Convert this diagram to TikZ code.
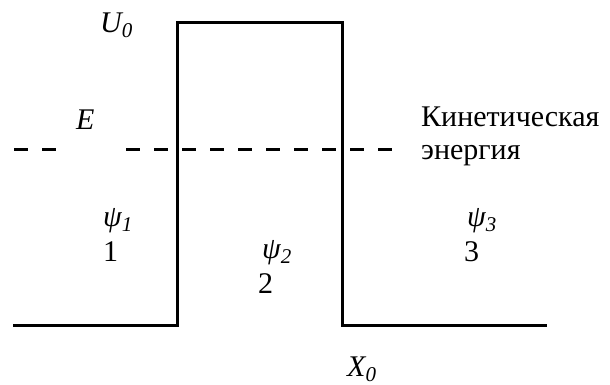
\documentclass[tikz,border=0pt]{standalone}
\usepackage{fontspec}
\setmainfont{Liberation Serif}
\tikzset{
  wall/.style={line width=3pt, line join=miter, line cap=rect},
  level/.style={line width=3pt, dash pattern=on 14pt off 14pt},
  lbl/.style={anchor=base west, inner sep=0pt, font=\fontsize{30}{32}\selectfont},
}
\newcommand{\lowsub}[1]{\raisebox{-5pt}{\fontsize{21}{21}\selectfont\itshape #1}}
\begin{document}
\begin{tikzpicture}[x=1pt,y=-1pt]
\useasboundingbox (0,0) rectangle (610,385);
\coordinate (l0) at (14,325);
\coordinate (l1) at (177.5,325);
\coordinate (t1) at (177.5,23);
\coordinate (t2) at (342,23);
\coordinate (r1) at (342,325);
\coordinate (r0) at (545,325);
\draw[wall] (l0) -- (l1) -- (t1) -- (t2) -- (r1) -- (r0);
\coordinate (d0) at (14,149);
\coordinate (d1) at (56,149);
\coordinate (d2) at (126,149);
\coordinate (d3) at (392,149);
\draw[level] (d0) -- (d1);
\draw[level] (d2) -- (d3);
\node[lbl] (U) at (100,33) {\itshape U\lowsub{0}};
\node[lbl] (E) at (76,129) {\itshape E};
\node[lbl] (kin) at (421,127) {Кинетическая};
\node[lbl] (en) at (421,159) {энергия};
\node[lbl] (p1) at (103,226) {\itshape ψ\lowsub{1}};
\node[lbl] (n1) at (103,261) {1};
\node[lbl] (p2) at (262,258) {\itshape ψ\lowsub{2}};
\node[lbl] (n2) at (258,293) {2};
\node[lbl] (p3) at (467,226) {\itshape ψ\lowsub{3}};
\node[lbl] (n3) at (464,261) {3};
\node[lbl] (X) at (347,376) {\itshape X\lowsub{0}};
\end{tikzpicture}
\end{document}
